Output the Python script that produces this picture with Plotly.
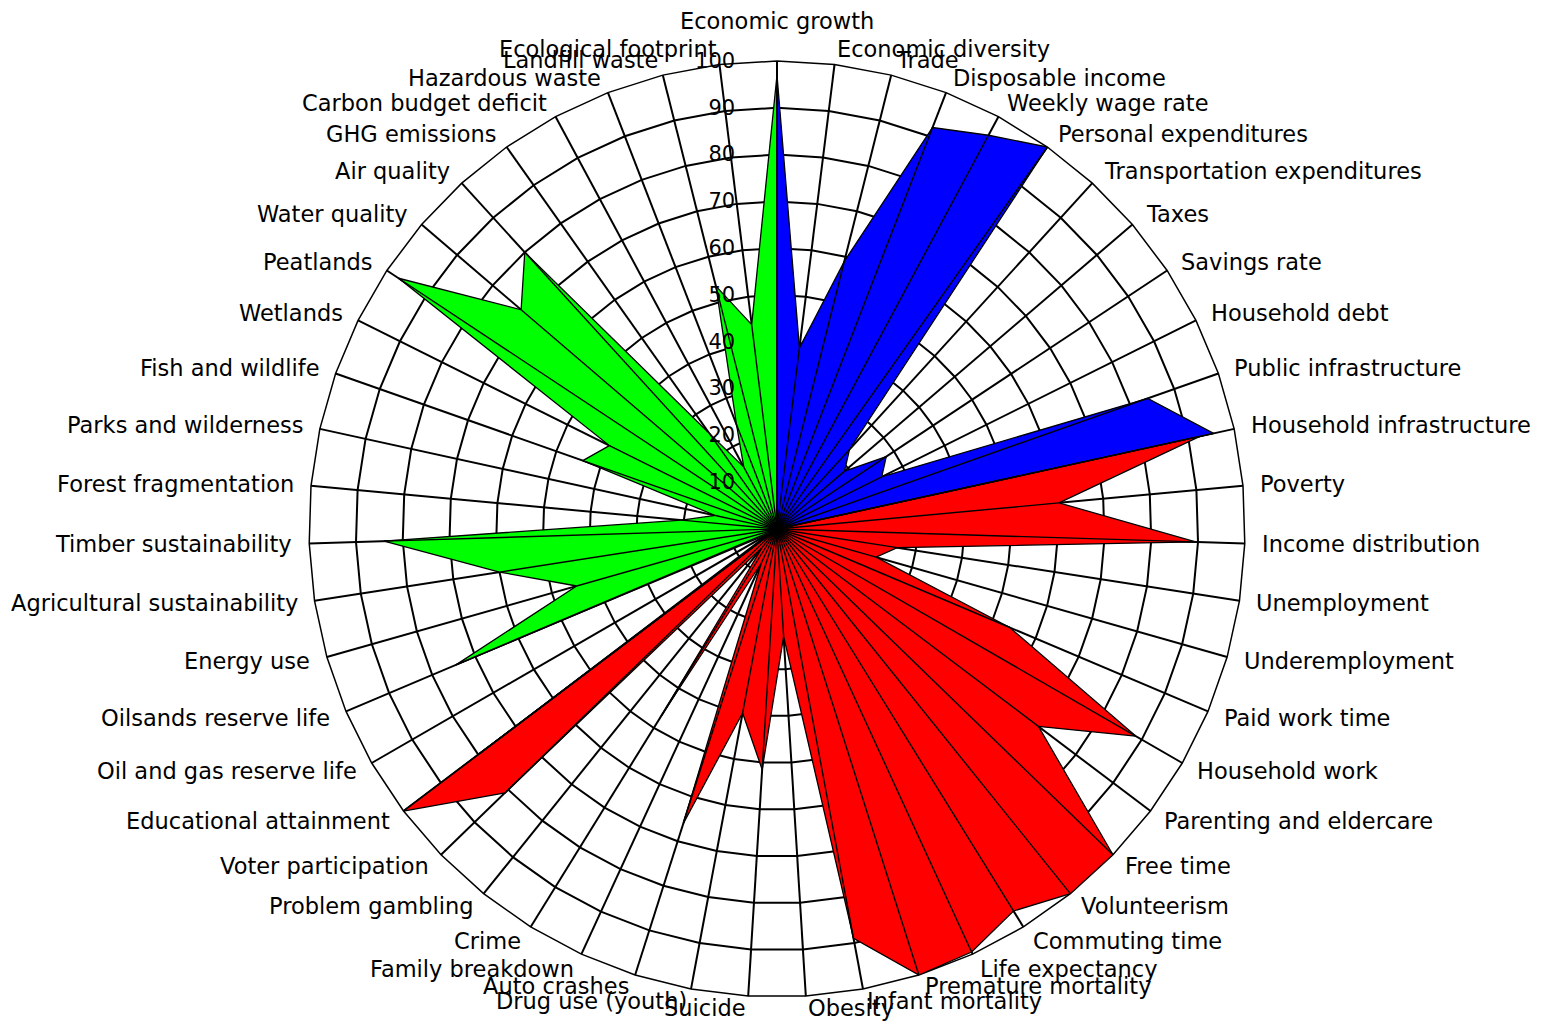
import math
import plotly.graph_objects as go

categories = [
    "Economic growth", "Economic diversity", "Trade", "Disposable income",
    "Weekly wage rate", "Personal expenditures", "Transportation expenditures",
    "Taxes", "Savings rate", "Household debt", "Public infrastructure",
    "Household infrastructure", "Poverty", "Income distribution", "Unemployment",
    "Underemployment", "Paid work time", "Household work", "Parenting and eldercare",
    "Free time", "Volunteerism", "Commuting time", "Life expectancy",
    "Premature mortality", "Infant mortality", "Obesity", "Suicide",
    "Drug use (youth)", "Auto crashes", "Family breakdown", "Crime",
    "Problem gambling", "Voter participation", "Educational attainment",
    "Oil and gas reserve life", "Oilsands reserve life", "Energy use",
    "Agricultural sustainability", "Timber sustainability", "Forest fragmentation",
    "Parks and wilderness", "Fish and wildlife", "Wetlands", "Peatlands",
    "Water quality", "Air quality", "GHG emissions", "Carbon budget deficit",
    "Hazardous waste", "Landfill waste", "Ecological footprint",
]

# Economic indicators (Economic growth .. Household infrastructure)
economic_cats = categories[0:12]
economic_vals = [97, 39, 59, 92, 95.5, 100, 23, 19, 28, 25, 84, 95.5]

# Social indicators (Household infrastructure .. Educational attainment)
social_cats = categories[11:34]
social_vals = [92.5, 60.5, 89.5, 26, 22, 54, 88.5, 70, 100, 100, 96, 99.5,
               100, 89, 23, 51.5, 40, 66, 8, 47, 5, 81, 100]

# Environmental indicators (Educational attainment .. Ecological footprint, Economic growth)
environment_cats = categories[33:51] + categories[0:1]
environment_vals = [80, 2, 74.5, 44.5, 60, 84, 20.5, 13.5, 44, 40, 97, 72, 80,
                    25, 15, 24, 53.5, 44, 97]

radial_ticks = [10, 20, 30, 40, 50, 60, 70, 80, 90, 100]

fig = go.Figure()


def add_area(cats, vals, color):
    fig.add_trace(go.Scatterpolar(
        r=[0] + vals + [0],
        theta=[cats[0]] + cats + [cats[-1]],
        mode="lines",
        fill="toself",
        fillcolor=color,
        line=dict(color="black", width=1.3),
        hoverinfo="skip",
        showlegend=False,
    ))


add_area(economic_cats, economic_vals, "#0000FF")
add_area(social_cats, social_vals, "#FF0000")
add_area(environment_cats, environment_vals, "#00FF00")

# spokes from the centre to each data point
spoke_r, spoke_t = [], []
for cats, vals in ((economic_cats, economic_vals), (social_cats, social_vals),
                   (environment_cats, environment_vals)):
    for c, v in zip(cats, vals):
        spoke_r += [0, v, None]
        spoke_t += [c, c, None]
fig.add_trace(go.Scatterpolar(
    r=spoke_r, theta=spoke_t, mode="lines",
    line=dict(color="black", width=1.4),
    connectgaps=False, hoverinfo="skip", showlegend=False,
))
# dark hub where the spokes converge
fig.add_trace(go.Scatterpolar(
    r=[0], theta=[categories[0]], mode="markers",
    marker=dict(color="black", size=36, symbol="circle"),
    hoverinfo="skip", showlegend=False,
))

W, H = 1542, 1021
PAGE_OFFSET = 8          # default body margin of the html page
cx, cy, R = 777 - PAGE_OFFSET, 529 - PAGE_OFFSET, 468
LABEL_GAP = 16

# category labels placed around the outer ring, like the original chart
annotations = []
n = len(categories)
for i, name in enumerate(categories):
    b = 2 * math.pi * i / n
    s, c = math.sin(b), math.cos(b)
    px = cx + (R + LABEL_GAP) * s
    py = cy - (R + LABEL_GAP) * c
    if abs(s) < 0.02:
        xa, ya = "center", "bottom"
        py -= 10
    else:
        xa = "left" if s > 0 else "right"
        ya = "middle"
        if c < -0.95:
            py -= 4
    annotations.append(dict(
        x=px / W, y=1 - py / H, xref="paper", yref="paper",
        text=name, showarrow=False, xanchor=xa, yanchor=ya,
        font=dict(family="DejaVu Sans", size=22.5, color="black"),
        borderpad=0,
    ))

fig.update_layout(
    width=W, height=H,
    margin=dict(l=0, r=0, t=0, b=0),
    paper_bgcolor="white",
    plot_bgcolor="white",
    font=dict(family="DejaVu Sans", color="black"),
    annotations=annotations,
    polar=dict(
        domain=dict(x=[(cx - R) / W, (cx + R) / W],
                    y=[(H - cy - R) / H, (H - cy + R) / H]),
        bgcolor="white",
        gridshape="linear",
        angularaxis=dict(
            type="category",
            categoryorder="array",
            categoryarray=categories,
            rotation=90,
            direction="clockwise",
            showline=True, linecolor="black", linewidth=1.5,
            showgrid=True, gridcolor="black", gridwidth=1.5,
            ticks="",
            showticklabels=False,
            layer="below traces",
        ),
        radialaxis=dict(
            range=[0, 100],
            tickvals=radial_ticks,
            ticktext=[str(t) for t in radial_ticks],
            angle=90,
            tickangle=90,
            side="counterclockwise",
            showline=False,
            showgrid=True, gridcolor="black", gridwidth=1.5,
            ticks="outside", ticklen=34, tickcolor="rgba(0,0,0,0)",
            tickfont=dict(family="DejaVu Sans", size=21, color="black"),
            layer="above traces",
        ),
    ),
)

fig.write_html("out.html")
